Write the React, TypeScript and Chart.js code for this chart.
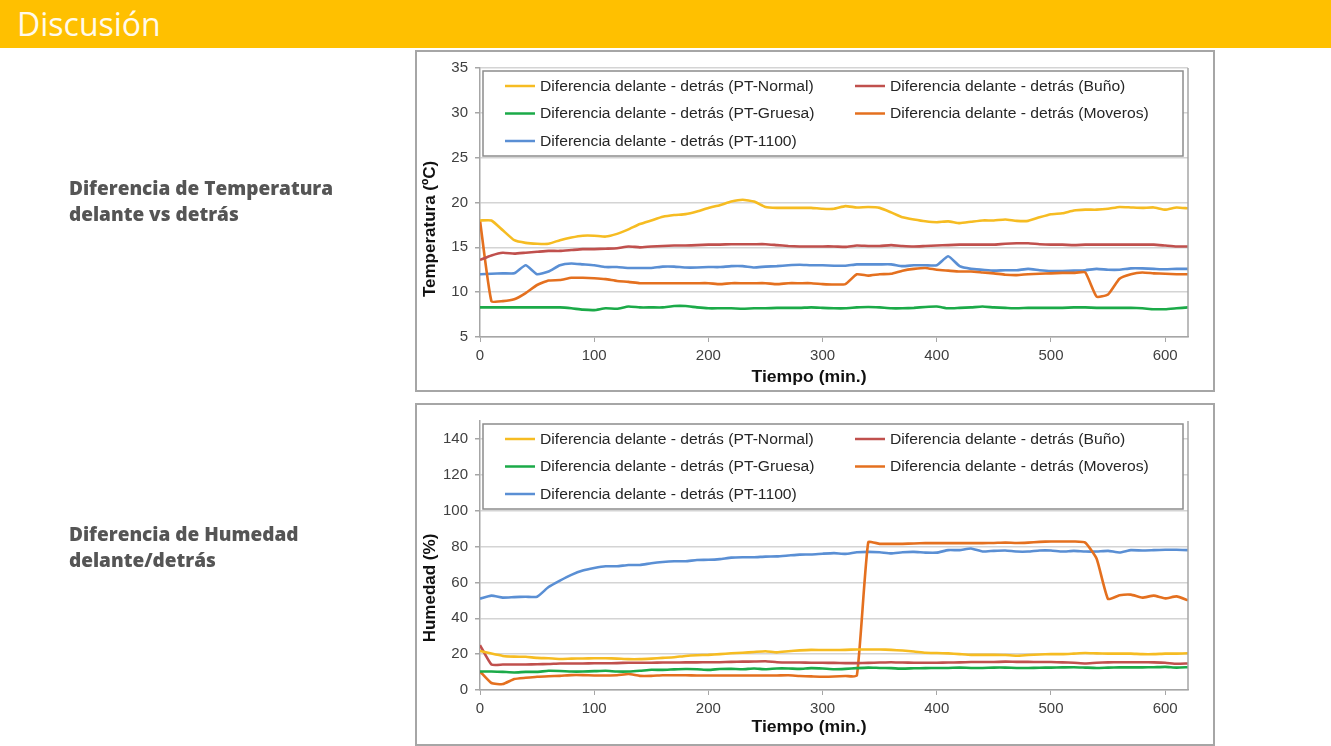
import { useEffect, useRef } from "react";
import { Chart, registerables } from "chart.js";

Chart.register(...registerables);

const TIME = [
  0, 10, 20, 30, 40, 50, 60, 70, 80, 90, 100, 110, 120, 130, 140, 150, 160, 170, 180, 190,
  200, 210, 220, 230, 240, 250, 260, 270, 280, 290, 300, 310, 320, 330, 340, 350, 360, 370, 380, 390,
  400, 410, 420, 430, 440, 450, 460, 470, 480, 490, 500, 510, 520, 530, 540, 550, 560, 570, 580, 590,
  600, 610, 620,
];
const X_TICKS = [0, 100, 200, 300, 400, 500, 600];
const TEMP_TICKS = [5, 10, 15, 20, 25, 30, 35];
const HUM_TICKS = [0, 20, 40, 60, 80, 100, 120, 140];

const SERIES_NAMES = [
  "Diferencia delante - detrás (PT-Normal)",
  "Diferencia delante - detrás (Buño)",
  "Diferencia delante - detrás (PT-Gruesa)",
  "Diferencia delante - detrás (Moveros)",
  "Diferencia delante - detrás (PT-1100)",
];
const SERIES_COLORS = ["#F6BC22", "#C0504D", "#1BAA48", "#E4701F", "#5A8FD4"];

// ---- Temperature (ºC) ----
const TEMP_NORMAL = [
  18.0, 18.0, 16.9, 15.8, 15.5, 15.4, 15.4, 15.8, 16.1, 16.3, 16.3, 16.2, 16.5, 17.0, 17.6, 18.0, 18.4, 18.6, 18.7, 19.0,
  19.4, 19.7, 20.1, 20.3, 20.1, 19.5, 19.4, 19.4, 19.4, 19.4, 19.3, 19.3, 19.6, 19.45, 19.5, 19.4, 18.9, 18.35, 18.1, 17.9,
  17.8, 17.9, 17.7, 17.85, 18.0, 18.0, 18.1, 17.95, 17.95, 18.35, 18.7, 18.8, 19.1, 19.2, 19.2, 19.3, 19.5, 19.45, 19.4, 19.45,
  19.2, 19.45, 19.35,
];
const TEMP_BUNO = [
  13.6, 14.1, 14.4, 14.3, 14.4, 14.5, 14.6, 14.6, 14.7, 14.8, 14.8, 14.85, 14.9, 15.1, 15.0, 15.1, 15.15, 15.2, 15.2, 15.25,
  15.3, 15.3, 15.35, 15.35, 15.35, 15.35, 15.25, 15.15, 15.1, 15.1, 15.1, 15.1, 15.05, 15.2, 15.15, 15.15, 15.25, 15.15, 15.1, 15.15,
  15.2, 15.25, 15.3, 15.3, 15.3, 15.3, 15.4, 15.45, 15.45, 15.35, 15.3, 15.3, 15.25, 15.3, 15.3, 15.3, 15.3, 15.3, 15.3, 15.3,
  15.2, 15.1, 15.1,
];
const TEMP_GRUESA = [
  8.3, 8.3, 8.3, 8.3, 8.3, 8.3, 8.3, 8.3, 8.2, 8.05, 8.0, 8.2, 8.15, 8.4, 8.3, 8.3, 8.3, 8.45, 8.45, 8.3,
  8.2, 8.2, 8.2, 8.15, 8.2, 8.2, 8.25, 8.25, 8.25, 8.3, 8.25, 8.2, 8.2, 8.3, 8.35, 8.3, 8.2, 8.2, 8.25, 8.35,
  8.4, 8.2, 8.25, 8.3, 8.4, 8.3, 8.25, 8.2, 8.25, 8.25, 8.25, 8.25, 8.3, 8.3, 8.25, 8.25, 8.25, 8.25, 8.2, 8.1,
  8.1, 8.2, 8.3,
];
const TEMP_MOVEROS = [
  18.0, 9.0, 9.0, 9.2, 9.9, 10.8, 11.3, 11.35, 11.6, 11.6, 11.55, 11.45, 11.25, 11.15, 11.0, 11.0, 11.0, 11.0, 11.0, 11.0,
  11.0, 10.9, 11.0, 11.0, 11.0, 11.0, 10.9, 11.0, 11.0, 11.0, 10.9, 10.85, 10.9, 12.0, 11.85, 12.0, 12.05, 12.4, 12.6, 12.7,
  12.5, 12.4, 12.3, 12.3, 12.2, 12.1, 11.95, 11.9, 12.0, 12.05, 12.1, 12.15, 12.15, 12.2, 9.5, 9.75, 11.5, 12.0, 12.2, 12.1,
  12.05, 12.0, 12.0,
];
const TEMP_PT1100 = [
  12.0, 12.05, 12.1, 12.1, 13.0, 12.0, 12.3, 13.0, 13.2, 13.1, 13.0, 12.8, 12.8, 12.7, 12.7, 12.7, 12.85, 12.85, 12.75, 12.75,
  12.8, 12.8, 12.9, 12.9, 12.75, 12.85, 12.9, 13.0, 13.05, 13.0, 13.0, 12.95, 12.95, 13.1, 13.1, 13.1, 13.1, 12.9, 13.0, 13.0,
  13.0, 14.0, 12.9, 12.6, 12.5, 12.4, 12.45, 12.45, 12.6, 12.45, 12.35, 12.35, 12.4, 12.45, 12.6, 12.5, 12.5, 12.65, 12.65, 12.6,
  12.55, 12.6, 12.6,
];

// ---- Humidity (%) ----
const HUM_NORMAL = [
  21.8, 20.3, 19.0, 18.6, 18.5, 17.9, 17.7, 17.3, 17.5, 17.6, 17.7, 17.7, 17.5, 17.2, 17.2, 17.5, 17.9, 18.3, 19.0, 19.4,
  19.6, 20.0, 20.5, 20.8, 21.2, 21.6, 21.0, 21.6, 22.1, 22.4, 22.3, 22.3, 22.4, 22.6, 22.6, 22.6, 22.4, 22.0, 21.5, 20.8,
  20.6, 20.4, 20.0, 19.6, 19.6, 19.6, 19.5, 19.1, 19.5, 19.8, 20.0, 20.0, 20.3, 20.6, 20.4, 20.3, 20.3, 20.3, 20.0, 20.0,
  20.3, 20.3, 20.5,
];
const HUM_BUNO = [
  25.0, 14.2, 14.2, 14.2, 14.2, 14.4, 14.5, 14.8, 14.8, 14.8, 14.9, 14.9, 15.0, 15.2, 15.2, 15.2, 15.3, 15.3, 15.4, 15.4,
  15.5, 15.5, 15.7, 15.8, 15.9, 16.0, 15.5, 15.3, 15.3, 15.2, 15.2, 15.1, 15.0, 15.0, 15.1, 15.3, 15.5, 15.3, 15.2, 15.2,
  15.2, 15.3, 15.4, 15.6, 15.6, 15.6, 15.8, 15.7, 15.7, 15.6, 15.6, 15.4, 15.2, 14.8, 15.2, 15.4, 15.5, 15.5, 15.5, 15.4,
  15.2, 14.6, 14.8,
];
const HUM_GRUESA = [
  10.3, 10.3, 10.1, 9.8, 10.1, 10.1, 10.7, 10.6, 10.3, 10.3, 10.5, 10.7, 10.3, 10.3, 10.7, 11.3, 11.2, 11.5, 11.7, 11.6,
  11.2, 11.7, 11.8, 11.6, 12.0, 11.6, 12.0, 12.0, 11.8, 12.2, 12.0, 11.6, 11.8, 12.2, 12.5, 12.3, 12.2, 11.9, 12.1, 12.2,
  12.3, 12.3, 12.5, 12.3, 12.3, 12.5, 12.5, 12.3, 12.3, 12.4, 12.5, 12.6, 12.7, 12.5, 12.3, 12.5, 12.6, 12.6, 12.6, 12.7,
  12.9, 12.5, 12.7,
];
const HUM_MOVEROS = [
  10.3, 3.9, 3.3, 6.1, 6.8, 7.4, 7.7, 7.9, 8.3, 8.3, 8.1, 8.1, 8.2, 8.9, 7.9, 7.9, 8.2, 8.2, 8.2, 8.1,
  8.1, 8.1, 8.1, 8.1, 8.1, 8.1, 8.1, 8.2, 7.8, 7.6, 7.4, 7.5, 7.8, 8.0, 82.4, 81.5, 81.5, 81.5, 81.7, 81.9,
  81.9, 81.9, 81.9, 81.9, 81.9, 82.0, 82.2, 82.0, 82.2, 82.6, 82.8, 82.8, 82.8, 82.2, 73.2, 50.7, 52.8, 53.2, 51.5, 52.6,
  51.1, 52.2, 50.0,
];
const HUM_PT1100 = [
  50.9, 52.6, 51.5, 51.8, 52.0, 52.0, 57.4, 61.0, 64.2, 66.6, 68.0, 69.0, 69.0, 69.7, 69.7, 70.7, 71.4, 71.8, 71.8, 72.5,
  72.6, 73.0, 73.8, 74.0, 74.0, 74.4, 74.5, 75.0, 75.5, 75.6, 76.0, 76.3, 75.9, 76.8, 77.0, 76.8, 76.2, 76.8, 77.0, 76.6,
  76.6, 78.0, 78.0, 78.9, 77.2, 77.6, 77.8, 77.2, 77.2, 77.8, 77.8, 77.2, 77.6, 77.2, 77.2, 77.6, 76.7, 78.0, 77.8, 78.0,
  78.2, 78.2, 78.0,
];

const X_TITLE = "Tiempo (min.)";
const TEMP_TITLE = "Temperatura (ºC)";
const HUM_TITLE = "Humedad (%)";

const FONT = "'Liberation Sans', Arial, sans-serif";
const AXIS_GREY = "#a6a6a6";

type ChartProps = {
  values: number[][];
  yMin: number;
  yMax: number;
  yTicks: number[];
  yTitle: string;
  yTitleCenter: number;
  top: number;
  height: number;
  xAxisHeight: number;
  xTitleY: number;
};

function makeDecor(yTitle: string, yTitleCenter: number, xTitleY: number) {
  return {
    id: "frameAndLegend",
    afterDraw(chart: any) {
      const { ctx, chartArea: a } = chart;
      ctx.save();
      // plot-area frame (right edge)
      ctx.strokeStyle = AXIS_GREY;
      ctx.lineWidth = 1.5;
      ctx.beginPath();
      ctx.moveTo(a.right, a.top);
      ctx.lineTo(a.right, a.bottom);
      ctx.stroke();
      // legend box
      const bx = a.left + 3;
      const by = a.top + 3;
      const bw = a.right - a.left - 8;
      const bh = 85;
      ctx.fillStyle = "#ffffff";
      ctx.fillRect(bx, by, bw, bh);
      ctx.strokeStyle = "#8c8c8c";
      ctx.lineWidth = 1.5;
      ctx.strokeRect(bx, by, bw, bh);
      const rows = [by + 15, by + 42.5, by + 70];
      const cols = [a.left + 25, a.left + 375];
      SERIES_NAMES.forEach((name, i) => {
        const col = cols[i % 2];
        const row = rows[Math.floor(i / 2)];
        ctx.strokeStyle = SERIES_COLORS[i];
        ctx.lineWidth = 2.5;
        ctx.beginPath();
        ctx.moveTo(col, row);
        ctx.lineTo(col + 30, row);
        ctx.stroke();
        ctx.save();
        ctx.translate(col + 35, row);
        ctx.scale(1.12, 1);
        ctx.fillStyle = "#262626";
        ctx.font = `14px ${FONT}`;
        ctx.textBaseline = "middle";
        ctx.textAlign = "left";
        ctx.fillText(name, 0, 1);
        ctx.restore();
      });
      // axis titles
      ctx.fillStyle = "#111111";
      ctx.textAlign = "center";
      ctx.textBaseline = "middle";
      ctx.save();
      ctx.translate(13, yTitleCenter);
      ctx.rotate(-Math.PI / 2);
      ctx.font = `bold 17px ${FONT}`;
      ctx.fillText(yTitle, 0, 0);
      ctx.restore();
      ctx.save();
      ctx.translate(392, xTitleY);
      ctx.scale(1.1, 1);
      ctx.font = `bold 16px ${FONT}`;
      ctx.fillText(X_TITLE, 0, 0);
      ctx.restore();
      ctx.restore();
    },
  };
}

function LineChartBox(props: ChartProps) {
  const ref = useRef<HTMLCanvasElement | null>(null);
  useEffect(() => {
    if (!ref.current) return;
    const datasets = props.values.map((vals, i) => ({
      label: SERIES_NAMES[i],
      data: TIME.map((t, j) => ({ x: t, y: vals[j] })),
      borderColor: SERIES_COLORS[i],
      backgroundColor: SERIES_COLORS[i],
      borderWidth: 2.6,
      pointRadius: 0,
      tension: 0.15,
      fill: false,
    }));
    const chart = new Chart(ref.current, {
      type: "line",
      data: { datasets },
      plugins: [makeDecor(props.yTitle, props.yTitleCenter, props.xTitleY)],
      options: {
        responsive: false,
        animation: false,
        devicePixelRatio: 1,
        layout: { padding: { top: 14, right: 25, left: 0, bottom: 0 } },
        plugins: { legend: { display: false }, tooltip: { enabled: false } },
        scales: {
          x: {
            type: "linear",
            min: 0,
            max: 620,
            afterFit: (s: any) => {
              s.height = props.xAxisHeight;
            },
            afterBuildTicks: (s: any) => {
              s.ticks = X_TICKS.map((v) => ({ value: v }));
            },
            ticks: {
              padding: 5,
              color: "#404040",
              font: { family: FONT, size: 15 },
              maxRotation: 0,
              autoSkip: false,
              callback: (v: any) => String(v),
            },
            grid: {
              drawOnChartArea: false,
              drawTicks: true,
              tickLength: 5,
              tickColor: AXIS_GREY,
            },
            border: { display: true, color: AXIS_GREY, width: 1.5 },
            title: { display: false },
          },
          y: {
            min: props.yMin,
            max: props.yMax,
            afterFit: (s: any) => {
              s.width = 63;
            },
            afterBuildTicks: (s: any) => {
              s.ticks = props.yTicks.map((v) => ({ value: v }));
            },
            ticks: {
              padding: 7,
              color: "#404040",
              font: { family: FONT, size: 15 },
              autoSkip: false,
              callback: (v: any) => String(v),
            },
            grid: {
              color: "#d4d4d4",
              lineWidth: 1.5,
              drawTicks: true,
              tickLength: 5,
              tickColor: AXIS_GREY,
            },
            border: { display: true, color: AXIS_GREY, width: 1.5 },
            title: { display: false },
          },
        },
      } as any,
    });
    return () => chart.destroy();
  }, []);

  return (
    <div
      style={{
        position: "absolute",
        left: 415,
        top: props.top,
        width: 796,
        height: props.height,
        border: "2px solid #a6a6a6",
        background: "#ffffff",
      }}
    >
      <canvas ref={ref} width={796} height={props.height} style={{ display: "block" }} />
    </div>
  );
}

const labelStyle: any = {
  position: "fixed",
  left: 69,
  margin: 0,
  fontFamily: "'Open Sans', sans-serif",
  fontWeight: 800,
  fontSize: 19,
  lineHeight: "26px",
  letterSpacing: "0px",
  color: "#555555",
};

export default function App() {
  return (
    <div style={{ position: "relative", width: 1331, height: 746 }}>
      <div
        style={{
          position: "fixed",
          left: 0,
          top: 0,
          width: 1331,
          height: 48,
          background: "#FFC000",
        }}
      >
        <div
          style={{
            position: "absolute",
            left: 17,
            top: 2,
            fontFamily: "'Open Sans', sans-serif",
            fontSize: 32,
            lineHeight: "44px",
            color: "#FFFAEB",
          }}
        >
          Discusión
        </div>
      </div>
      <div style={{ ...labelStyle, top: 175 }}>
        Diferencia de Temperatura
        <br />
        delante vs detrás
      </div>
      <div style={{ ...labelStyle, top: 521 }}>
        Diferencia de Humedad
        <br />
        delante/detrás
      </div>
      <div style={{ position: "fixed", left: 0, top: 0 }}>
        <LineChartBox
          values={[TEMP_NORMAL, TEMP_BUNO, TEMP_GRUESA, TEMP_MOVEROS, TEMP_PT1100]}
          yMin={5}
          yMax={35}
          yTicks={TEMP_TICKS}
          yTitle={TEMP_TITLE}
          yTitleCenter={177}
          top={50}
          height={338}
          xAxisHeight={53}
          xTitleY={326}
        />
        <LineChartBox
          values={[HUM_NORMAL, HUM_BUNO, HUM_GRUESA, HUM_MOVEROS, HUM_PT1100]}
          yMin={0}
          yMax={150}
          yTicks={HUM_TICKS}
          yTitle={HUM_TITLE}
          yTitleCenter={183}
          top={403}
          height={339}
          xAxisHeight={54}
          xTitleY={323}
        />
      </div>
    </div>
  );
}
